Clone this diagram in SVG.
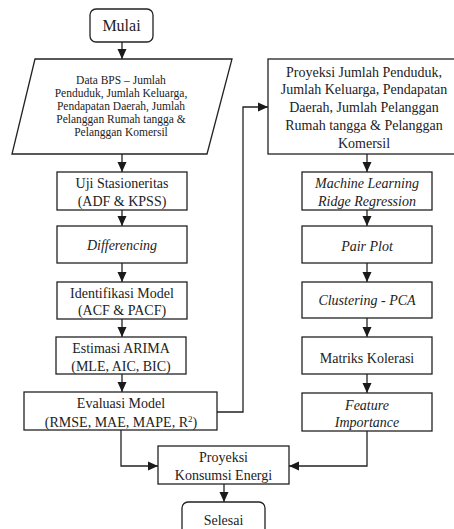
<svg xmlns="http://www.w3.org/2000/svg" width="454" height="529" viewBox="0 0 454 529">
<defs>
<marker id="ah" markerUnits="userSpaceOnUse" markerWidth="10" markerHeight="10" viewBox="0 0 10 10" refX="10" refY="5" orient="auto">
<path d="M0,0.5 L10,5 L0,9.5 Z" fill="#1a1a1a"/>
</marker>
<style>
.b{fill:#fff;stroke:#222;stroke-width:1.3}
.t{font-family:"Liberation Serif","Times New Roman",serif;font-size:14px;fill:#222;text-anchor:middle}
.s{font-size:11.5px}
.i{font-style:italic}
.c{fill:none;stroke:#222;stroke-width:1.3;marker-end:url(#ah)}
</style>
</defs>
<rect width="454" height="529" fill="#fff"/>
<g id="connectors">
<path class="c" d="M122,42 V59"/>
<path class="c" d="M122,154 V172"/>
<path class="c" d="M122,210 V226"/>
<path class="c" d="M122,263 V282"/>
<path class="c" d="M122,319 V337"/>
<path class="c" d="M122,374 V392"/>
<path class="c" d="M217,412 H243 V107 H268"/>
<path class="c" d="M121,430 V466 H158"/>
<path class="c" d="M367,154 V172"/>
<path class="c" d="M367,210 V226"/>
<path class="c" d="M367,263 V282"/>
<path class="c" d="M367,318 V337"/>
<path class="c" d="M367,374 V393"/>
<path class="c" d="M367,431 V466 H289"/>
<path class="c" d="M224,484 V502"/>
</g>
<g id="mulai">
<rect class="b" x="90" y="9" width="63" height="33" rx="6"/>
<text class="t" x="121.5" y="31" style="font-size:16px">Mulai</text>
</g>
<g id="data">
<path class="b" d="M35,59 H232 L207,154 H12 Z"/>
<text class="t s" x="121" y="84">Data BPS – Jumlah</text>
<text class="t s" x="121" y="97">Penduduk, Jumlah Keluarga,</text>
<text class="t s" x="121" y="110">Pendapatan Daerah, Jumlah</text>
<text class="t s" x="121" y="123">Pelanggan Rumah tangga &amp;</text>
<text class="t s" x="121" y="136">Pelanggan Komersil</text>
</g>
<g id="uji">
<rect class="b" x="57" y="172" width="130" height="38"/>
<text class="t" x="122" y="188">Uji Stasioneritas</text>
<text class="t" x="122" y="205.5">(ADF &amp; KPSS)</text>
</g>
<g id="differencing">
<rect class="b" x="57" y="226" width="130" height="37"/>
<text class="t i" x="122" y="249.5">Differencing</text>
</g>
<g id="identifikasi">
<rect class="b" x="57" y="282" width="130" height="37"/>
<text class="t" x="122" y="297.5">Identifikasi Model</text>
<text class="t" x="122" y="315">(ACF &amp; PACF)</text>
</g>
<g id="estimasi">
<rect class="b" x="56" y="337" width="130" height="37"/>
<text class="t" x="121" y="353">Estimasi ARIMA</text>
<text class="t" x="121" y="370.5">(MLE, AIC, BIC)</text>
</g>
<g id="evaluasi">
<rect class="b" x="24" y="392" width="193" height="38"/>
<text class="t" x="121" y="408">Evaluasi Model</text>
<text class="t" x="121" y="426.5">(RMSE, MAE, MAPE, R<tspan dy="-5" style="font-size:9px">2</tspan><tspan dy="5">)</tspan></text>
</g>
<g id="proyeksi">
<rect class="b" x="268" y="59" width="194" height="95"/>
<text class="t" x="364" y="76.5">Proyeksi Jumlah Penduduk,</text>
<text class="t" x="364" y="94">Jumlah Keluarga, Pendapatan</text>
<text class="t" x="364" y="112">Daerah, Jumlah Pelanggan</text>
<text class="t" x="364" y="130">Rumah tangga &amp; Pelanggan</text>
<text class="t" x="364" y="147.5">Komersil</text>
</g>
<g id="ridge">
<rect class="b" x="302" y="172" width="130" height="38"/>
<text class="t i" x="367" y="188">Machine Learning</text>
<text class="t i" x="367" y="205.5">Ridge Regression</text>
</g>
<g id="pairplot">
<rect class="b" x="302" y="226" width="130" height="37"/>
<text class="t i" x="367" y="250.5">Pair Plot</text>
</g>
<g id="clustering">
<rect class="b" x="302" y="282" width="130" height="36"/>
<text class="t i" x="367" y="305">Clustering - PCA</text>
</g>
<g id="matriks">
<rect class="b" x="302" y="337" width="130" height="37"/>
<text class="t" x="367" y="363">Matriks Kolerasi</text>
</g>
<g id="feature">
<rect class="b" x="302" y="393" width="130" height="38"/>
<text class="t i" x="367" y="410">Feature</text>
<text class="t i" x="367" y="426.5">Importance</text>
</g>
<g id="konsumsi">
<rect class="b" x="158" y="446" width="131" height="38"/>
<text class="t" x="223.5" y="461.5">Proyeksi</text>
<text class="t" x="223.5" y="480">Konsumsi Energi</text>
</g>
<g id="selesai">
<rect class="b" x="182" y="502" width="83" height="40" rx="6"/>
<text class="t" x="223.5" y="525">Selesai</text>
</g>
</svg>
